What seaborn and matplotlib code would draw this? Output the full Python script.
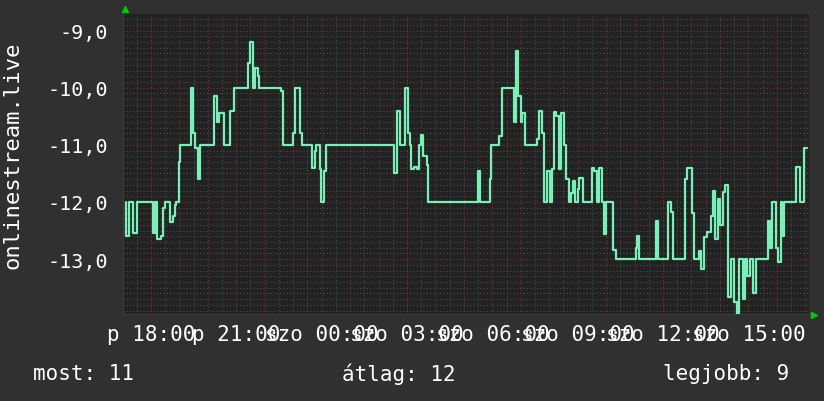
import numpy as np
import pandas as pd
import matplotlib
matplotlib.use("Agg")
import matplotlib.pyplot as plt
import seaborn as sns
from matplotlib.ticker import MultipleLocator

# hours counted from friday 00:00 where the value changes (step series)
change_hours = [
    17.11, 17.12, 17.24, 17.38, 17.50, 18.08, 18.16, 18.23, 18.34, 18.43,
    18.49, 18.67, 18.78, 18.84, 18.88, 19.00, 19.04, 19.42, 19.49, 19.55,
    19.65, 19.74, 20.23, 20.34, 20.41, 20.58, 20.77, 20.92,
    21.41, 21.49, 21.59, 21.67, 21.76, 21.80, 22.58, 22.64, 22.99, 23.07,
    23.25, 23.32, 23.66, 23.76, 23.81, 23.93, 23.99, 24.09, 24.17,
    26.55, 26.65, 26.76, 26.92, 27.02, 27.10, 27.15, 27.26, 27.34, 27.44,
    27.49, 27.57, 27.69, 27.75,
    29.49, 29.58, 29.92, 29.97, 30.24, 30.34, 30.76, 30.83, 30.91, 31.01,
    31.06, 31.16, 31.56, 31.65, 31.74, 31.80, 31.92, 32.01, 32.11, 32.17,
    32.24, 32.33, 32.41, 32.51, 32.60, 32.68, 32.77,
    32.83, 32.90, 33.02, 33.06, 33.17, 33.49, 33.58, 33.68, 33.75, 33.84,
    33.92, 34.00, 34.23, 34.33, 35.04, 35.07, 35.15, 35.75, 35.83, 36.17,
    36.27, 36.35, 36.77, 36.85,
    37.03, 37.09, 37.27, 37.32, 37.44, 37.53, 37.67, 37.77, 37.84, 37.94,
    38.00, 38.12, 38.19, 38.27, 38.38, 38.49, 38.60, 38.68, 38.80, 38.87,
    38.95, 39.07, 39.16, 39.28, 39.68, 39.76, 39.83, 39.97, 40.04, 40.13,
    40.19, 40.26, 40.66, 40.68, 40.82, 40.95, 41.05,
]
rank_values = [
    -12.0, -12.6, -12.0, -12.55, -12.0, -12.55, -12.0, -12.65, -12.6, -12.1,
    -12.0, -12.35, -12.25, -12.05, -12.0, -11.3, -11.0, -10.0, -10.8, -11.05,
    -11.6, -11.0, -10.15, -10.6, -10.45, -11.0, -10.4, -10.0,
    -9.57, -9.2, -10.0, -9.65, -9.8, -10.0, -10.05, -11.0, -10.8, -10.0,
    -10.8, -11.0, -11.4, -11.1, -11.0, -11.42, -12.0, -11.45, -11.0,
    -11.5, -10.4, -11.0, -10.0, -10.8, -11.0, -11.42, -11.38, -11.42, -11.0,
    -10.82, -11.2, -11.35, -12.0,
    -11.45, -12.0, -11.6, -11.0, -10.85, -10.0, -10.6, -9.35, -10.15, -10.6,
    -10.45, -11.0, -10.9, -10.4, -10.8, -12.0, -11.45, -12.0, -11.42, -10.43,
    -10.5, -11.42, -10.45, -11.0, -11.6, -12.0, -11.85,
    -11.63, -12.0, -11.77, -11.58, -12.0, -11.4, -11.45, -12.0, -11.4, -12.0,
    -12.56, -12.0, -12.84, -13.0, -12.8, -12.6, -13.0, -12.33, -13.0, -12.0,
    -12.18, -13.0, -11.6, -11.4,
    -12.2, -13.0, -12.85, -13.17, -12.62, -12.53, -12.24, -11.8, -12.64, -11.94,
    -12.4, -11.83, -11.7, -13.67, -13.0, -13.75, -13.96, -13.0, -13.7, -13.0,
    -13.3, -13.0, -13.6, -13.0, -12.33, -12.8, -12.0, -12.8, -13.05, -12.0,
    -12.6, -12.0, -11.9, -11.38, -12.0, -11.06, -11.06,
]

label_hours = [18, 21, 24, 27, 30, 33, 36, 39]
label_texts = ["p 18:00", "p 21:00", "szo 00:00", "szo 03:00",
               "szo 06:00", "szo 09:00", "szo 12:00", "szo 15:00"]
y_ticks = [-9, -10, -11, -12, -13]
y_labels = ["-9,0", "-10,0", "-11,0", "-12,0", "-13,0"]
series_name = "onlinestream.live"
stat_names = ["most", "átlag", "legjobb"]
stat_values = [11, 12, 9]

sns.set_style("dark")
plt.rcParams["font.family"] = ["DejaVu Sans Mono", "DejaVu Sans"]

bg = "#303030"
red = "#7d3434"
gray = "#4c4c4c"

df = pd.DataFrame({"ora": change_hours, "helyezes": rank_values})

fig = plt.figure(figsize=(8.24, 4.02), dpi=100, facecolor=bg)
ax = fig.add_axes([123 / 824, 1 - 315 / 402, 686 / 824, 300 / 402])
ax.set_facecolor("#222222")

sns.lineplot(data=df, x="ora", y="helyezes", ax=ax, estimator=None,
             drawstyle="steps-post", color="#78f0b8", linewidth=1.6, zorder=5)

ax.set_xlim(17.02, 41.13)
ax.set_ylim(-13.96, -8.71)

# hourly red grid, labels only every third hour
hours = list(range(18, 42))
label_map = dict(zip(label_hours, label_texts))
ax.set_xticks(hours)
ax.set_xticklabels([label_map.get(h, "") for h in hours])
ax.xaxis.set_minor_locator(MultipleLocator(0.5))
ax.set_yticks(y_ticks)
ax.set_yticklabels(y_labels)
ax.yaxis.set_minor_locator(MultipleLocator(0.1))

ax.grid(True, which="minor", color=gray, linestyle=(0, (1, 2)), linewidth=0.8)
ax.grid(True, which="major", color=red, linestyle=(0, (1, 2)), linewidth=0.8)

ax.tick_params(axis="x", which="major", length=3, color=red, pad=4,
               labelsize=15, labelcolor="white")
ax.tick_params(axis="x", which="minor", length=3, color=gray)
ax.tick_params(axis="y", which="both", length=0, pad=11,
               labelsize=14.5, labelcolor="white")
for lab in ax.get_xticklabels():
    lab.set_ha("center")

for s in ["top", "right"]:
    ax.spines[s].set_visible(False)
for s in ["left", "bottom"]:
    ax.spines[s].set_color("#3c3c3c")
ax.set_xlabel("")
ax.set_ylabel("")

# small green axis arrows
ax.plot([0.003], [1.018], marker="^", ms=4, color="#00cc00",
        transform=ax.transAxes, clip_on=False)
ax.plot([1.008], [-0.002], marker=">", ms=4, color="#00cc00",
        transform=ax.transAxes, clip_on=False)

fig.text(13 / 824, 1 - 155 / 402, series_name, rotation=90, ha="center",
         va="center", fontsize=16, color="white")

stat_x = [33, 342, 663]
for name, val, x in zip(stat_names, stat_values, stat_x):
    fig.text(x / 824, 1 - 374 / 402, f"{name}: {val}", ha="left", va="center",
             fontsize=15, color="white")

fig.savefig("out.png", dpi=100, facecolor=bg)
